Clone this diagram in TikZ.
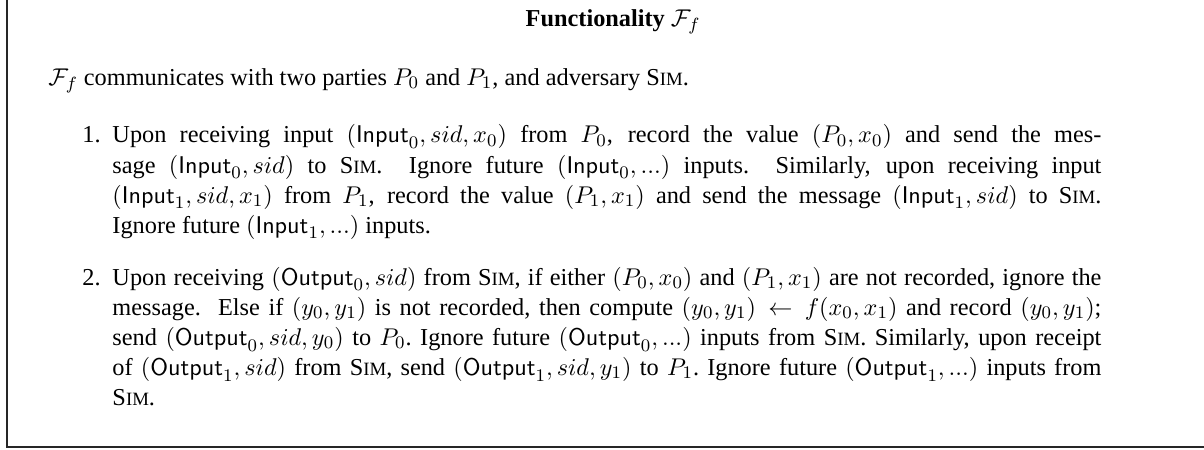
\documentclass[tikz,border=0pt]{standalone}
\usepackage{amsmath}
\usepackage{amssymb}
\usepackage[no-math]{fontspec}
\setmainfont{Liberation Serif}
\usepackage{tikz}
\newcommand{\Simname}{S{\fontsize{8.5}{10}\selectfont IM}}
\newcommand{\inp}[1]{\mathsf{Input}_{#1}}
\newcommand{\outp}[1]{\mathsf{Output}_{#1}}

\begin{document}
\begin{tikzpicture}[x=1pt,y=1pt,
    txt/.style={inner sep=0pt, anchor=base west, font=\fontsize{11}{13.6}\selectfont},
    para/.style={txt, text width=447.5pt, align=justify}]
    \useasboundingbox (0,0) rectangle (544.8,-203.6);
    \coordinate (top) at (3.2,0);
    \coordinate (corner) at (3.2,-202.3);
    \coordinate (right) at (544.8,-202.3);
    \draw[line width=0.6pt, black!85] (top) -- (corner) -- (right);
    \node[txt, anchor=base] (title) at (277.4,-12.1) {\textbf{Functionality $\mathcal{F}_f$}};
    \node[txt] (intro) at (21.7,-38.5)
        {$\mathcal{F}_f$ communicates with two parties $P_0$ and $P_1$, and adversary \Simname.};
    \node[txt] (lab1) at (37.1,-64.7) {1.};
    \node[para] (item1) at (50.7,-64.7)
        {Upon receiving input $(\inp{0}, sid, x_0)$ from $P_0$, record the value $(P_0, x_0)$ and send the mes-\linebreak
         sage $(\inp{0}, sid)$ to \Simname.\@\ \ Ignore future $(\inp{0}, ...)$ inputs.\ \ Similarly, upon receiving input\linebreak
         $(\inp{1}, sid, x_1)$ from $P_1$, record the value $(P_1, x_1)$ and send the message $(\inp{1}, sid)$ to \Simname.\linebreak
         Ignore future $(\inp{1}, ...)$ inputs.};
    \node[txt] (lab2) at (37.1,-129) {2.};
    \node[para] (item2) at (50.7,-129)
        {\frenchspacing Upon receiving $(\outp{0}, sid)$ from \Simname, if either $(P_0, x_0)$ and $(P_1, x_1)$ are not recorded, ignore the\linebreak
         message.\ \ Else if $(y_0, y_1)$ is not recorded, then compute $(y_0, y_1) \leftarrow f(x_0, x_1)$ and record $(y_0, y_1)$;\linebreak
         send $(\outp{0}, sid, y_0)$ to $P_0$. Ignore future $(\outp{0}, ...)$ inputs from \Simname. Similarly, upon receipt\linebreak
         of $(\outp{1}, sid)$ from \Simname, send $(\outp{1}, sid, y_1)$ to $P_1$. Ignore future $(\outp{1}, ...)$ inputs from\linebreak
         \Simname.};
\end{tikzpicture}
\end{document}
